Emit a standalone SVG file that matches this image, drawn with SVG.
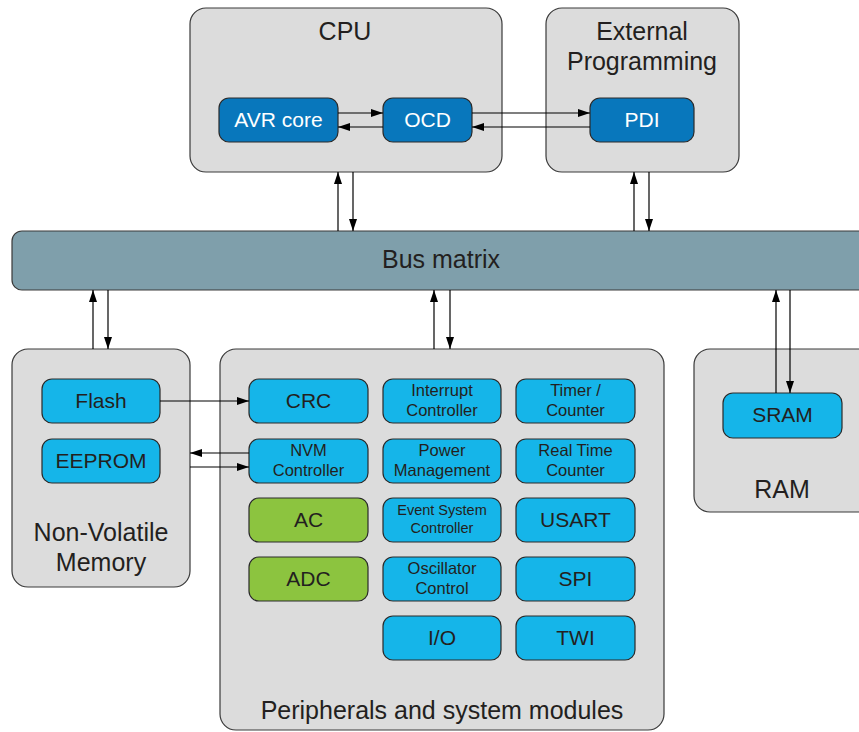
<svg xmlns="http://www.w3.org/2000/svg" width="859" height="732" viewBox="0 0 859 732">
<defs>
<marker id="ah" markerWidth="12" markerHeight="8" refX="12" refY="4" orient="auto" markerUnits="userSpaceOnUse">
<path d="M0,0 L12,4 L0,8 z" fill="#000"/>
</marker>
<style>
.grp{fill:#dcdcdc;stroke:#3a3a3a;stroke-width:1.2}
.dk{fill:#0877bc;stroke:#2a2a2a;stroke-width:1.2}
.lt{fill:#15b5e9;stroke:#2a2a2a;stroke-width:1.2}
.gr{fill:#8cc43f;stroke:#2a2a2a;stroke-width:1.2}
.bus{fill:#7f9fab;stroke:#3a3a3a;stroke-width:1.2}
text{font-family:"Liberation Sans",Arial,sans-serif;text-anchor:middle;fill:#231f20}
.big{font-size:25px}
.mid{font-size:21px}
.sm{font-size:16.5px}
.xs{font-size:14.5px}
.wt{fill:#ffffff}
.c{stroke:#000;stroke-width:1.2;fill:none;marker-end:url(#ah)}
</style>
</defs>

<g id="cpu">
<rect class="grp" x="190" y="8" width="312" height="164" rx="16"/>
<text class="big" x="345" y="40">CPU</text>
</g>
<g id="avr-core">
<rect class="dk" x="219" y="98" width="119" height="44" rx="10"/>
<text class="mid wt" x="278.5" y="127">AVR core</text>
</g>
<g id="ocd">
<rect class="dk" x="383" y="98" width="89" height="44" rx="10"/>
<text class="mid wt" x="427.5" y="127">OCD</text>
</g>

<g id="external-programming">
<rect class="grp" x="546" y="8" width="193" height="164" rx="16"/>
<text class="big" x="642" y="40">External</text>
<text class="big" x="642" y="70">Programming</text>
</g>
<g id="pdi">
<rect class="dk" x="590" y="98" width="104" height="44" rx="10"/>
<text class="mid wt" x="642" y="127">PDI</text>
</g>

<g id="bus-matrix">
<rect class="bus" x="12" y="231" width="870" height="59" rx="10"/>
<text class="big" x="441" y="268">Bus matrix</text>
</g>

<g id="non-volatile-memory">
<rect class="grp" x="12" y="349" width="178" height="238" rx="16"/>
<text class="big" x="101" y="541">Non-Volatile</text>
<text class="big" x="101" y="571">Memory</text>
</g>
<g id="flash">
<rect class="lt" x="42" y="379" width="118" height="44" rx="10"/>
<text class="mid" x="101" y="408">Flash</text>
</g>
<g id="eeprom">
<rect class="lt" x="42" y="439" width="118" height="44" rx="10"/>
<text class="mid" x="101" y="468">EEPROM</text>
</g>

<g id="peripherals">
<rect class="grp" x="220" y="349" width="444" height="381" rx="16"/>
<text class="big" x="442" y="719">Peripherals and system modules</text>
</g>
<g id="crc">
<rect class="lt" x="249" y="379" width="119" height="44" rx="10"/>
<text class="mid" x="308.5" y="408">CRC</text>
</g>
<g id="nvm-controller">
<rect class="lt" x="249" y="439" width="119" height="44" rx="10"/>
<text class="sm" x="308.5" y="456">NVM</text>
<text class="sm" x="308.5" y="476">Controller</text>
</g>
<g id="ac">
<rect class="gr" x="249" y="498" width="119" height="44" rx="10"/>
<text class="mid" x="308.5" y="527">AC</text>
</g>
<g id="adc">
<rect class="gr" x="249" y="557" width="119" height="44" rx="10"/>
<text class="mid" x="308.5" y="586">ADC</text>
</g>
<g id="interrupt-controller">
<rect class="lt" x="383" y="379" width="118" height="44" rx="10"/>
<text class="sm" x="442" y="396">Interrupt</text>
<text class="sm" x="442" y="416">Controller</text>
</g>
<g id="power-management">
<rect class="lt" x="383" y="439" width="118" height="44" rx="10"/>
<text class="sm" x="442" y="456">Power</text>
<text class="sm" x="442" y="476">Management</text>
</g>
<g id="event-system-controller">
<rect class="lt" x="383" y="498" width="118" height="44" rx="10"/>
<text class="xs" x="442" y="515">Event System</text>
<text class="xs" x="442" y="533">Controller</text>
</g>
<g id="oscillator-control">
<rect class="lt" x="383" y="557" width="118" height="44" rx="10"/>
<text class="sm" x="442" y="574">Oscillator</text>
<text class="sm" x="442" y="594">Control</text>
</g>
<g id="io">
<rect class="lt" x="383" y="616" width="118" height="44" rx="10"/>
<text class="mid" x="442" y="645">I/O</text>
</g>
<g id="timer-counter">
<rect class="lt" x="516" y="379" width="119" height="44" rx="10"/>
<text class="sm" x="575.5" y="396">Timer /</text>
<text class="sm" x="575.5" y="416">Counter</text>
</g>
<g id="real-time-counter">
<rect class="lt" x="516" y="439" width="119" height="44" rx="10"/>
<text class="sm" x="575.5" y="456">Real Time</text>
<text class="sm" x="575.5" y="476">Counter</text>
</g>
<g id="usart">
<rect class="lt" x="516" y="498" width="119" height="44" rx="10"/>
<text class="mid" x="575.5" y="527">USART</text>
</g>
<g id="spi">
<rect class="lt" x="516" y="557" width="119" height="44" rx="10"/>
<text class="mid" x="575.5" y="586">SPI</text>
</g>
<g id="twi">
<rect class="lt" x="516" y="616" width="119" height="44" rx="10"/>
<text class="mid" x="575.5" y="645">TWI</text>
</g>

<g id="ram">
<rect class="grp" x="694" y="349" width="185" height="163" rx="16"/>
<text class="big" x="782" y="498">RAM</text>
</g>
<g id="sram">
<rect class="lt" x="723" y="393" width="119" height="45" rx="10"/>
<text class="mid" x="782.5" y="422">SRAM</text>
</g>

<g id="connectors">
<path class="c" d="M338,113 H383"/>
<path class="c" d="M383,127 H338"/>
<path class="c" d="M472,113 H590"/>
<path class="c" d="M590,127 H472"/>
<path class="c" d="M338,231 V172"/>
<path class="c" d="M353,172 V231"/>
<path class="c" d="M634,231 V172"/>
<path class="c" d="M649,172 V231"/>
<path class="c" d="M93,349 V290"/>
<path class="c" d="M108,290 V349"/>
<path class="c" d="M434,349 V290"/>
<path class="c" d="M450,290 V349"/>
<path class="c" d="M776,393 V290"/>
<path class="c" d="M790,290 V393"/>
<path class="c" d="M160,401 H249"/>
<path class="c" d="M249,453 H190"/>
<path class="c" d="M190,467 H249"/>
</g>
</svg>
